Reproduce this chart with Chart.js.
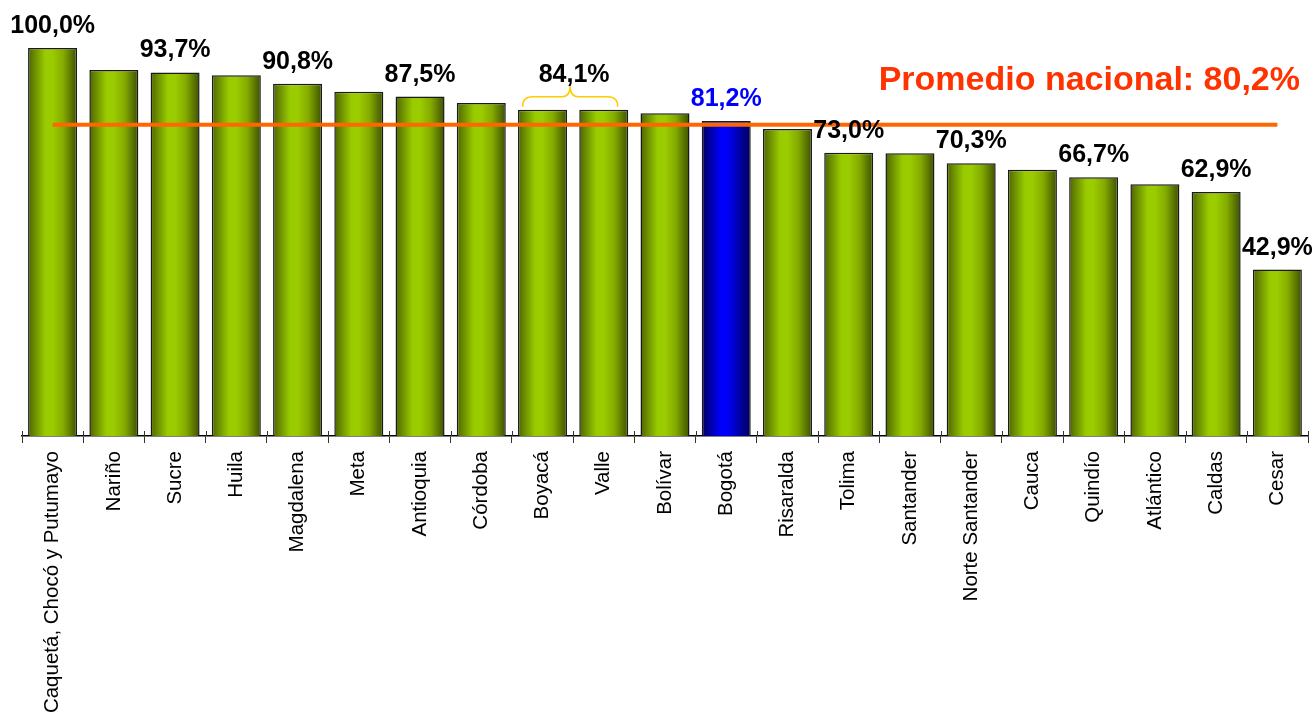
<!DOCTYPE html>
<html>
<head>
<meta charset="utf-8">
<script src="https://cdn.jsdelivr.net/npm/chart.js@4/dist/chart.umd.min.js"></script>
<style>
  html, body { margin: 0; padding: 0; background: #fff; }
  #wrap { width: 1316px; height: 719px; position: relative; }
</style>
</head>
<body>
<div id="wrap"><canvas id="grafico"></canvas></div>
<script>
// Datos del gráfico
const categorias = [
  "Caquetá, Chocó y Putumayo", "Nariño", "Sucre", "Huila", "Magdalena", "Meta",
  "Antioquia", "Córdoba", "Boyacá", "Valle", "Bolívar", "Bogotá", "Risaralda",
  "Tolima", "Santander", "Norte Santander", "Cauca", "Quindío", "Atlántico",
  "Caldas", "Cesar"
];
const valores = [
  100.0, 94.3, 93.7, 93.0, 90.8, 88.7, 87.5, 85.8, 84.1, 84.1, 83.2,
  81.2, 79.1, 73.0, 72.9, 70.3, 68.6, 66.7, 64.9, 62.9, 42.9
];
const barrasConEtiqueta = [0, 2, 4, 6, 11, 13, 15, 17, 19, 20];
const grupoLlave = [8, 9];
const destacado = "Bogotá";
const promedioNacional = 80.2;
const tituloPromedio = "Promedio nacional: 80,2%";

const fmt = (v) => v.toFixed(1).replace(".", ",") + "%";
const BAR_PCT = 0.8;

// Degradado horizontal por barra
const degradadoBarra = (context) => {
  const chart = context.chart;
  const xs = chart.scales.x;
  if (!chart.chartArea || !xs) return "#99cc00";
  const i = context.dataIndex;
  const cx = xs.getPixelForValue(i);
  const half = (xs.width / categorias.length) * BAR_PCT / 2;
  const g = chart.ctx.createLinearGradient(cx - half, 0, cx + half, 0);
  if (categorias[i] === destacado) {
    g.addColorStop(0, "#000060");
    g.addColorStop(0.4, "#0000ff");
    g.addColorStop(0.55, "#0000f2");
    g.addColorStop(1, "#00005a");
  } else {
    g.addColorStop(0, "#4f6500");
    g.addColorStop(0.35, "#99cc00");
    g.addColorStop(0.5, "#9bcc00");
    g.addColorStop(0.72, "#84aa00");
    g.addColorStop(1, "#3d5000");
  }
  return g;
};

// Etiquetas, llave, marcas del eje y título
const etiquetasPlugin = {
  id: "etiquetas",
  afterDatasetsDraw(chart) {
    const { ctx } = chart;
    const xs = chart.scales.x;
    const ys = chart.scales.y;
    ctx.save();

    // marcas cortas por encima del eje
    const base = chart.chartArea.bottom;
    const paso = xs.width / categorias.length;
    ctx.strokeStyle = "#333";
    ctx.lineWidth = 1;
    for (let k = 0; k <= categorias.length; k++) {
      const x = Math.round(xs.left + k * paso) + 0.5;
      ctx.beginPath();
      ctx.moveTo(x, base - 5);
      ctx.lineTo(x, base);
      ctx.stroke();
    }

    ctx.textAlign = "center";
    ctx.textBaseline = "alphabetic";
    ctx.font = "bold 25px 'Liberation Sans', Arial, sans-serif";
    barrasConEtiqueta.forEach((i) => {
      ctx.fillStyle = categorias[i] === destacado ? "#0000ff" : "#000";
      ctx.fillText(fmt(valores[i]), xs.getPixelForValue(i), ys.getPixelForValue(valores[i]) - 15);
    });

    // llave sobre Boyacá y Valle
    const a = xs.getPixelForValue(grupoLlave[0]) - 20;
    const b = xs.getPixelForValue(grupoLlave[1]) + 14;
    const yTop = ys.getPixelForValue(Math.max(...grupoLlave.map((i) => valores[i])));
    const y0 = yTop - 3;
    const y1 = yTop - 13;
    const yp = yTop - 24;
    const m = (a + b) / 2;
    ctx.strokeStyle = "#ffcc00";
    ctx.lineWidth = 1.5;
    ctx.beginPath();
    ctx.moveTo(a, y0);
    ctx.quadraticCurveTo(a, y1, a + 10, y1);
    ctx.lineTo(m - 8, y1);
    ctx.quadraticCurveTo(m, y1, m, yp);
    ctx.quadraticCurveTo(m, y1, m + 8, y1);
    ctx.lineTo(b - 10, y1);
    ctx.quadraticCurveTo(b, y1, b, y0);
    ctx.stroke();
    ctx.fillStyle = "#000";
    ctx.fillText(fmt(valores[grupoLlave[0]]), m + 4, yTop - 28);

    // título del promedio
    ctx.textAlign = "right";
    ctx.fillStyle = "#ff3300";
    ctx.font = "bold 34px 'Liberation Sans', Arial, sans-serif";
    ctx.fillText(tituloPromedio, 1300, 90);
    ctx.restore();
  },
};

document.addEventListener("DOMContentLoaded", () => {
  const ctx = document.getElementById("grafico").getContext("2d");
  new Chart(ctx, {
    type: "bar",
    data: {
      labels: categorias,
      datasets: [
        {
          type: "line",
          label: "Promedio nacional",
          data: [
            { x: categorias[0], y: promedioNacional },
            { x: categorias[categorias.length - 1], y: promedioNacional },
          ],
          borderColor: "#ff6600",
          borderWidth: 4,
          pointRadius: 0,
          fill: false,
          order: 0,
        },
        {
          label: "Cobertura",
          data: valores,
          backgroundColor: degradadoBarra,
          borderColor: "#1a1a1a",
          borderWidth: 1.5,
          barPercentage: BAR_PCT,
          categoryPercentage: 1,
          order: 1,
        },
      ],
    },
    options: {
      responsive: true,
      maintainAspectRatio: false,
      animation: false,
      layout: { padding: { left: 22, right: 8, top: 48, bottom: 0 } },
      plugins: {
        legend: { display: false },
        tooltip: { enabled: false },
      },
      scales: {
        y: {
          display: false,
          min: 0,
          max: 100,
        },
        x: {
          offset: true,
          afterFit: (scale) => { scale.height = 283; },
          border: { display: true, color: "#000", width: 1.5 },
          grid: {
            offset: true,
            drawOnChartArea: false,
            drawTicks: true,
            tickLength: 7,
            color: "#333",
          },
          ticks: {
            autoSkip: false,
            maxRotation: 90,
            minRotation: 90,
            padding: 8,
            color: "#000",
            font: { family: "'Liberation Sans', Arial, sans-serif", size: 20.5 },
          },
        },
      },
    },
    plugins: [etiquetasPlugin],
  });
});
</script>
</body>
</html>
